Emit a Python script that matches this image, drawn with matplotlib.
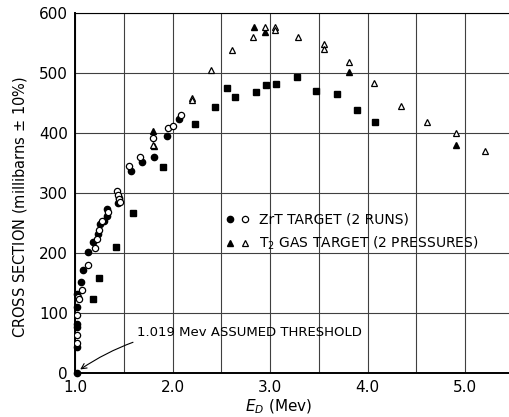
import matplotlib
matplotlib.use("Agg")
from matplotlib import pyplot as plt
from matplotlib.legend_handler import HandlerTuple
from matplotlib.lines import Line2D
from matplotlib.ticker import FormatStrFormatter

# ZrT target, run 1 (filled circles)
zrt1_e = [1.019, 1.017, 1.017, 1.017, 1.024, 1.02, 1.058, 1.085, 1.13, 1.18, 1.24, 1.26,
          1.30, 1.33, 1.33, 1.44, 1.45, 1.57, 1.69, 1.81, 1.94, 2.07]
zrt1_s = [0, 43, 77, 81, 110, 132, 152, 172, 202, 219, 232, 249,
          254, 261, 274, 283, 291, 337, 352, 360, 396, 423]

# ZrT target, run 2 (open circles)
zrt2_e = [1.017, 1.024, 1.024, 1.034, 1.045, 1.068, 1.13, 1.21, 1.23, 1.25, 1.28, 1.34,
          1.43, 1.44, 1.45, 1.46, 1.55, 1.67, 1.80, 1.95, 2.00, 2.09]
zrt2_s = [49, 63, 96, 127, 124, 138, 180, 209, 224, 238, 254, 268,
          303, 297, 290, 285, 345, 360, 392, 408, 412, 430]

# T2 gas target, pressure 1 (filled triangles)
gas1_e = [1.80, 1.81, 2.84, 2.95, 3.81, 4.91]
gas1_s = [404, 378, 577, 569, 502, 381]

# T2 gas target, pressure 2 (open triangles)
gas2_e = [1.80, 2.20, 2.20, 2.39, 2.61, 2.83, 2.95, 3.05, 3.05, 3.29, 3.55, 3.55,
          3.81, 4.07, 4.34, 4.61, 4.91, 5.20]
gas2_s = [380, 459, 455, 506, 539, 561, 578, 577, 572, 561, 548, 541,
          518, 483, 446, 418, 400, 370]

# unlabelled series (filled squares)
sq_e = [1.18, 1.25, 1.42, 1.60, 1.90, 2.23, 2.44, 2.56, 2.64, 2.86, 2.96, 3.06,
        3.28, 3.47, 3.69, 3.89, 4.08]
sq_s = [123, 159, 210, 267, 343, 416, 444, 476, 460, 469, 480, 482,
        493, 470, 466, 438, 418]

plt.rcParams['font.family'] = ['DejaVu Sans']

fig = plt.figure(figsize=(5.10, 4.17), dpi=100)
ax = fig.add_axes([0.147, 0.106, 0.853, 0.862])

ms = 4.5
ax.plot(zrt1_e, zrt1_s, 'o', color='black', ms=ms, zorder=3, clip_on=False)
ax.plot(zrt2_e, zrt2_s, 'o', mfc='white', mec='black', mew=0.9, ms=ms, zorder=3)
ax.plot(gas1_e, gas1_s, '^', color='black', ms=ms + 0.5, zorder=3)
ax.plot(gas2_e, gas2_s, '^', mfc='white', mec='black', mew=0.9, ms=ms + 0.5, zorder=3)
ax.plot(sq_e, sq_s, 's', color='black', ms=ms, zorder=3)

ax.set_xlim(1.0, 5.46)
ax.set_ylim(0, 600)
ax.set_xticks([1.0, 2.0, 3.0, 4.0, 5.0])
ax.set_xticks([1.5, 2.5, 3.5, 4.5], minor=True)
ax.xaxis.set_major_formatter(FormatStrFormatter('%.1f'))
ax.set_yticks(range(0, 601, 100))
ax.tick_params(which='both', length=0, labelsize=11, pad=5)
ax.grid(True, which='both', color='0.25', lw=0.8)
ax.set_axisbelow(True)

for side in ['left', 'bottom']:
    ax.spines[side].set_linewidth(1.4)
ax.spines['top'].set_linewidth(0.8)
ax.spines['right'].set_visible(False)

ax.set_xlabel(r'$E_D$ (Mev)', fontsize=11)
ax.set_ylabel('CROSS SECTION (millibarns $\\pm$ 10%)', fontsize=10.5)
ax.xaxis.set_label_coords(0.467, -0.07)
ax.yaxis.set_label_coords(-0.105, 0.46)

ax.annotate('1.019 Mev ASSUMED THRESHOLD', xy=(1.03, 3), xytext=(1.64, 68),
            fontsize=9.5, va='center', ha='left',
            arrowprops=dict(arrowstyle='->', color='black', lw=0.8,
                            connectionstyle='arc3,rad=0.2', shrinkA=2, shrinkB=2))

h_zrt = (Line2D([], [], marker='o', ls='', color='black', ms=ms),
         Line2D([], [], marker='o', ls='', mfc='white', mec='black', mew=0.9, ms=ms))
h_gas = (Line2D([], [], marker='^', ls='', color='black', ms=ms + 0.5),
         Line2D([], [], marker='^', ls='', mfc='white', mec='black', mew=0.9, ms=ms + 0.5))
leg = ax.legend([h_zrt, h_gas], ['ZrT TARGET (2 RUNS)', 'T$_2$ GAS TARGET (2 PRESSURES)'],
                handler_map={tuple: HandlerTuple(ndivide=None, pad=0.6)},
                loc='upper left', bbox_to_anchor=(0.32, 0.48), frameon=False,
                fontsize=10, handlelength=1.6, handletextpad=0.7, labelspacing=0.55)

fig.savefig('out.png', dpi=100)
